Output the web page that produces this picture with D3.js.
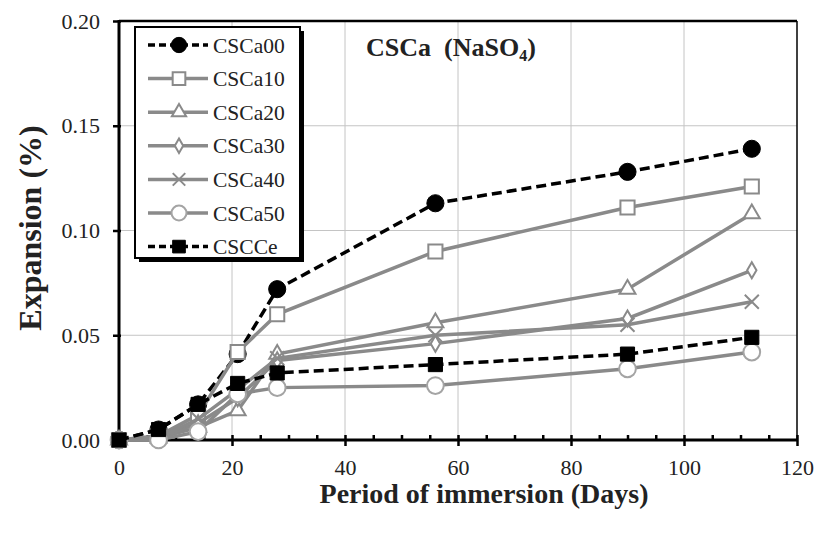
<!DOCTYPE html>
<html>
<head>
<meta charset="utf-8">
<script src="https://cdn.jsdelivr.net/npm/d3@7"></script>
<style>
  body { margin: 0; background: #fff; }
</style>
</head>
<body>
<script>
// immersion days
const days = [0, 7, 14, 21, 28, 56, 90, 112];

// expansion (%) per mix
const cscA00 = [0, 0.005, 0.017, 0.041, 0.072, 0.113, 0.128, 0.139];
const cscA10 = [0, 0.002, 0.012, 0.042, 0.060, 0.090, 0.111, 0.121];
const cscA20 = [0, 0.001, 0.006, 0.014, 0.041, 0.056, 0.072, 0.108];
const cscA30 = [0, 0.001, 0.008, 0.020, 0.038, 0.046, 0.058, 0.081];
const cscA40 = [0, 0.001, 0.010, 0.024, 0.039, 0.050, 0.055, 0.066];
const cscA50 = [0, 0.000, 0.004, 0.022, 0.025, 0.026, 0.034, 0.042];
const csCCe  = [0, 0.005, 0.017, 0.027, 0.032, 0.036, 0.041, 0.049];

const names = ["CSCa00", "CSCa10", "CSCa20", "CSCa30", "CSCa40", "CSCa50", "CSCCe"];
const xTicks = [0, 20, 40, 60, 80, 100, 120];
const yTicks = [0, 0.05, 0.10, 0.15, 0.20];

const font = "Liberation Serif";
const gray = "#8a8a8a";
const styles = [
  {values: cscA00, color: "#000", dash: "10,5", symbol: d3.symbolCircle, size: 230, fill: "#000"},
  {values: cscA10, color: gray, dash: null, symbol: d3.symbolSquare, size: 200, fill: "#fff"},
  {values: cscA20, color: gray, dash: null, symbol: d3.symbolTriangle, size: 110, fill: "#fff"},
  {values: cscA30, color: gray, dash: null, symbol: d3.symbolDiamond, size: 75, fill: "#fff"},
  {values: cscA40, color: gray, dash: null, symbol: d3.symbolTimes, size: 130, fill: "none"},
  {values: cscA50, color: gray, dash: null, symbol: d3.symbolCircle, size: 220, fill: "#fff", stroke: "#a4a4a4"},
  {values: csCCe, color: "#000", dash: "10,5", symbol: d3.symbolSquare, size: 200, fill: "#000"}
];

const width = 816, height = 534;
const x = d3.scaleLinear().domain([0, 120]).range([119, 797]);
const y = d3.scaleLinear().domain([0, 0.2]).range([440, 21]);

const svg = d3.select("body").append("svg")
    .attr("width", width)
    .attr("height", height);

// grid
svg.append("g")
  .selectAll("line")
  .data(xTicks.slice(1, -1))
  .join("line")
    .attr("x1", d => x(d)).attr("x2", d => x(d))
    .attr("y1", y(0)).attr("y2", y(0.2))
    .attr("stroke", "#c4c4c4");
svg.append("g")
  .selectAll("line")
  .data(yTicks.slice(1, -1))
  .join("line")
    .attr("x1", x(0)).attr("x2", x(120))
    .attr("y1", d => y(d)).attr("y2", d => y(d))
    .attr("stroke", "#c4c4c4");

// frame top/right
svg.append("line")
    .attr("x1", x(0)).attr("x2", x(120)).attr("y1", y(0.2)).attr("y2", y(0.2))
    .attr("stroke", "#000").attr("stroke-width", 2.5);
svg.append("line")
    .attr("x1", x(120)).attr("x2", x(120)).attr("y1", y(0.2)).attr("y2", y(0))
    .attr("stroke", "#000").attr("stroke-width", 1.5);

// x axis: minor ticks every 5 days inside, major ticks crossing
const xAxis = svg.append("g").attr("transform", `translate(0,${y(0)})`);
xAxis.append("g")
  .call(d3.axisBottom(x).tickValues(d3.range(5, 120, 5).filter(d => d % 20)).tickSize(-5).tickFormat(""))
  .call(g => g.select(".domain").remove())
  .call(g => g.selectAll(".tick line").attr("stroke-width", 2.5));
xAxis.append("g")
  .call(d3.axisBottom(x).tickValues(xTicks).tickSize(6).tickFormat(d3.format("d")))
  .call(g => g.select(".domain").attr("stroke-width", 3).attr("d", `M${x(0)},0H${x(120)}`))
  .call(g => g.selectAll(".tick line").attr("y1", -5).attr("stroke-width", 2.5))
  .call(g => g.selectAll(".tick text").attr("y", 19)
      .attr("font-size", 22).attr("fill", "#222"));

// y axis
svg.append("g")
    .attr("transform", `translate(${x(0)},0)`)
  .call(d3.axisLeft(y).tickValues(yTicks).tickSize(6).tickFormat(d3.format(".2f")))
  .call(g => g.select(".domain").attr("stroke-width", 3).attr("d", `M0,${y(0) + 1}V${y(0.2) - 1}`))
  .call(g => g.selectAll(".tick line").attr("x1", 2).attr("stroke-width", 2.5))
  .call(g => g.selectAll(".tick text").attr("x", -19)
      .attr("font-size", 22).attr("fill", "#222"));

// axis titles
svg.append("text")
    .attr("transform", `translate(41,228) rotate(-90)`)
    .attr("text-anchor", "middle")
    .attr("font-weight", "bold")
    .attr("font-size", 32)
    .attr("fill", "#222")
    .text("Expansion (%)");
svg.append("text")
    .attr("x", 484).attr("y", 503)
    .attr("text-anchor", "middle")
    .attr("font-weight", "bold")
    .attr("font-size", 28)
    .attr("fill", "#222")
    .text("Period of immersion (Days)");

// chart title
const title = svg.append("text")
    .attr("x", 366).attr("y", 56)
    .attr("font-weight", "bold")
    .attr("font-size", 26)
    .attr("fill", "#222");
title.append("tspan").text("CSCa\u00a0 (NaSO");
title.append("tspan").attr("font-size", 16).attr("dy", 5).text("4");
title.append("tspan").attr("dy", -5).text(")");

// series
const line = d3.line().x((d, i) => x(days[i])).y(d => y(d));
const series = svg.append("g");
styles.forEach(s => {
  series.append("path")
      .datum(s.values)
      .attr("fill", "none")
      .attr("stroke", s.color)
      .attr("stroke-width", 3.5)
      .attr("stroke-dasharray", s.dash)
      .attr("d", line);
  series.append("g")
    .selectAll("path")
    .data(s.values)
    .join("path")
      .attr("transform", (d, i) => `translate(${x(days[i])},${y(d)})`)
      .attr("d", d3.symbol(s.symbol, s.size))
      .attr("fill", s.fill)
      .attr("stroke", s.stroke || s.color)
      .attr("stroke-width", s.fill === "#000" ? 1 : 2);
});

// legend
const legend = svg.append("g").attr("transform", "translate(135,27)");
legend.append("rect")
    .attr("x", 4).attr("y", 4).attr("width", 165).attr("height", 231)
    .attr("fill", "#000");
legend.append("rect")
    .attr("width", 165).attr("height", 231)
    .attr("fill", "#fff").attr("stroke", "#000").attr("stroke-width", 2);
const items = legend.selectAll("g.item")
  .data(styles)
  .join("g")
    .attr("class", "item")
    .attr("transform", (d, i) => `translate(0,${18 + i * 33.6})`);
items.append("line")
    .attr("x1", 13).attr("x2", 73)
    .attr("stroke", d => d.color)
    .attr("stroke-width", 3.5)
    .attr("stroke-dasharray", d => d.dash ? "7,4" : null);
items.append("path")
    .attr("transform", "translate(44,0)")
    .attr("d", d => d3.symbol(d.symbol, d.size * 0.8)())
    .attr("fill", d => d.fill)
    .attr("stroke", d => d.stroke || d.color)
    .attr("stroke-width", d => d.fill === "#000" ? 1 : 2);
items.append("text")
    .attr("x", 78)
    .attr("dy", "0.35em")
    .attr("font-size", 21.5)
    .attr("fill", "#222")
    .text((d, i) => names[i]);

// set the serif face on every text directly
svg.selectAll("text").attr("font-family", font).style("font-family", `"${font}", serif`);
</script>
</body>
</html>
